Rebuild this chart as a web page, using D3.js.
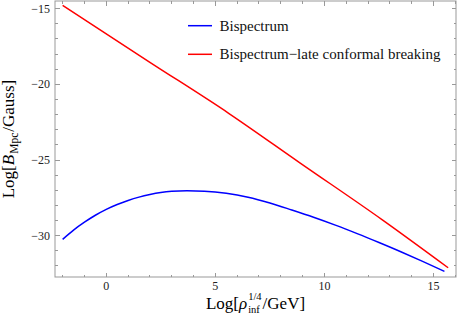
<!DOCTYPE html>
<html><head><meta charset="utf-8">
<script src="https://cdn.jsdelivr.net/npm/d3@7"></script>
<style>
body{margin:0;background:#fff}
svg{display:block}
text{font-family:"Liberation Serif","Times New Roman",serif}
</style></head><body>
<script>
const xTicks=[0,5,10,15];
const yTicks=[-30,-25,-20,-15];
const xMinor=d3.range(-2,17,1);
const yMinor=d3.range(-32,-14,1);
const seriesNames=["Bispectrum","Bispectrum\u2212late conformal breaking"];
const seriesColors=["#0000ff","#ff0000"];
const blueX=[-2.0,-1.5,-1.0,-0.5,0.0,0.5,1.0,1.5,2.0,2.5,3.0,3.7,4.5,5.5,6.5,7.5,8.5,9.5,10.5,11.5,12.5,13.5,14.5,15.5];
const blueY=[-30.24,-29.63,-29.11,-28.65,-28.26,-27.94,-27.67,-27.45,-27.28,-27.15,-27.07,-27.03,-27.06,-27.20,-27.46,-27.84,-28.30,-28.78,-29.30,-29.86,-30.45,-31.06,-31.70,-32.36];
const redX=[-2.0,2.0,5.61,8.89,12.67,15.67];
const redY=[-14.78,-18.54,-21.91,-25.2,-28.97,-32.12];

const W=458,H=327;
const L=55,R=456,T=1,B=277;
const svg=d3.select("body").append("svg").attr("width",W).attr("height",H);
const x=d3.scaleLinear().domain([-2.35,16.03]).range([L,R]);
const y=d3.scaleLinear().domain([-32.73,-14.49]).range([B,T]);
const frameCol="#999";

svg.append("rect").attr("x",L).attr("y",T).attr("width",R-L).attr("height",B-T)
  .attr("fill","none").attr("stroke",frameCol).attr("stroke-width",1);

function tk(g,vals,len){
  vals.forEach(v=>{
    if(v>=x.domain()[0]&&v<=x.domain()[1]){
      g.append("line").attr("x1",x(v)).attr("x2",x(v)).attr("y1",B).attr("y2",B-len).attr("stroke",frameCol);
      g.append("line").attr("x1",x(v)).attr("x2",x(v)).attr("y1",T).attr("y2",T+len).attr("stroke",frameCol);
    }
  });
}
function tky(g,vals,len){
  vals.forEach(v=>{
    if(v>=y.domain()[0]&&v<=y.domain()[1]){
      g.append("line").attr("y1",y(v)).attr("y2",y(v)).attr("x1",L).attr("x2",L+len).attr("stroke",frameCol);
      g.append("line").attr("y1",y(v)).attr("y2",y(v)).attr("x1",R).attr("x2",R-len).attr("stroke",frameCol);
    }
  });
}
const tg=svg.append("g").attr("shape-rendering","crispEdges");
tk(tg,xMinor.filter(v=>!xTicks.includes(v)),2.5);
tk(tg,xTicks,4.5);
tky(tg,yMinor.filter(v=>!yTicks.includes(v)),2.5);
tky(tg,yTicks,4.5);

const fmt=v=>(v<0?"\u2212":"")+Math.abs(v);
svg.append("g").selectAll("text").data(xTicks).join("text")
  .attr("x",d=>x(d)).attr("y",B+13).attr("text-anchor","middle")
  .attr("font-size",12).attr("fill","#222").text(fmt);
svg.append("g").selectAll("text").data(yTicks).join("text")
  .attr("x",L-5).attr("y",d=>y(d)+4).attr("text-anchor","end")
  .attr("font-size",12).attr("fill","#222").text(fmt);

const line=d3.line().x(d=>x(d[0])).y(d=>y(d[1])).curve(d3.curveMonotoneX);
const blue=blueX.map((v,i)=>[v,blueY[i]]);
const red=redX.map((v,i)=>[v,redY[i]]);
const plot=svg.append("g");
plot.append("path").datum(blue).attr("d",line).attr("fill","none").attr("stroke",seriesColors[0]).attr("stroke-width",1.5);
plot.append("path").datum(red).attr("d",line).attr("fill","none").attr("stroke",seriesColors[1]).attr("stroke-width",1.5);

const legY=[25.7,54.3];
seriesNames.forEach((n,i)=>{
  svg.append("line").attr("x1",188).attr("x2",212).attr("y1",legY[i]).attr("y2",legY[i])
    .attr("stroke",seriesColors[i]).attr("stroke-width",1.5);
  svg.append("text").attr("x",219.5).attr("y",legY[i]+5).attr("font-size",15).attr("fill","#111").text(n);
});

function buildTitle(g,parts,fs){
  let cx=0;
  parts.forEach(p=>{
    if(p.stack){
      const sup=g.append("text").attr("x",cx).attr("y",-9).attr("font-size",fs*0.62).text(p.sup);
      const sub=g.append("text").attr("x",cx).attr("y",4).attr("font-size",fs*0.62).text(p.sub);
      cx+=Math.max(sup.node().getComputedTextLength(),sub.node().getComputedTextLength())+1;
    }else if(p.sub){
      const s=g.append("text").attr("x",cx).attr("y",3.5).attr("font-size",fs*0.68).text(p.sub);
      cx+=s.node().getComputedTextLength()+1;
    }else{
      const t=g.append("text").attr("x",cx).attr("y",0).attr("font-size",fs)
        .attr("font-style",p.it?"italic":"normal").text(p.t);
      cx+=t.node().getComputedTextLength()+(p.it?1:0);
    }
  });
  return cx;
}
const xg=svg.append("g");
const xw=buildTitle(xg,[{t:"Log["},{t:"\u03c1",it:true},{stack:true,sup:"1/4",sub:"inf"},{t:"/GeV]"}],17);
xg.attr("transform",`translate(${(L+R)/2-xw/2},309)`);

const yg=svg.append("g");
const yw=buildTitle(yg,[{t:"Log["},{t:"B",it:true},{sub:"Mpc"},{t:"/Gauss]"}],17);
yg.attr("transform",`translate(14,${(T+B)/2+yw/2}) rotate(-90)`);
</script>
</body></html>
